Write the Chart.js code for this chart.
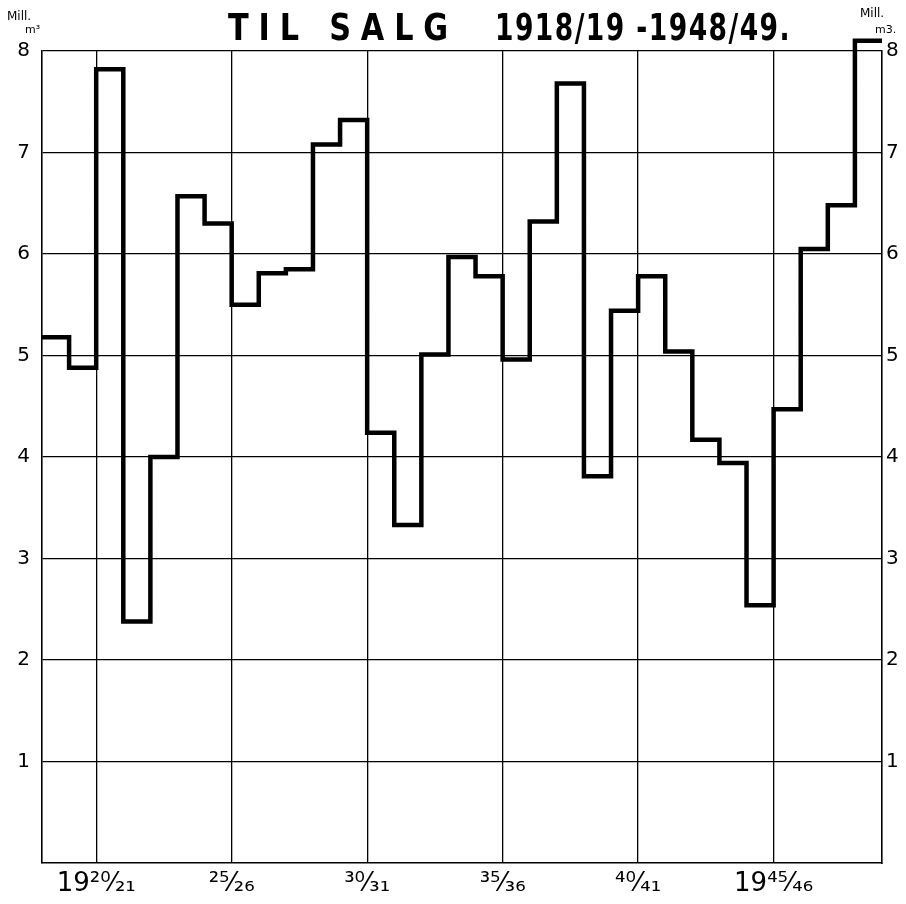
<!DOCTYPE html>
<html>
<head>
<meta charset="utf-8">
<script src="https://cdn.jsdelivr.net/npm/chart.js@4"></script>
<style>
  html, body { margin: 0; padding: 0; background: #fff; }
  #wrap { width: 906px; height: 904px; }
</style>
</head>
<body>
<div id="wrap"><canvas id="myChart" width="906" height="904"></canvas></div>
<script>
// seasons 1918/19 .. 1948/49, mill. m3 for sale
const seasons = [
    '1918/19', '1919/20', '1920/21', '1921/22', '1922/23', '1923/24', '1924/25', '1925/26',
    '1926/27', '1927/28', '1928/29', '1929/30', '1930/31', '1931/32', '1932/33', '1933/34',
    '1934/35', '1935/36', '1936/37', '1937/38', '1938/39', '1939/40', '1940/41', '1941/42',
    '1942/43', '1943/44', '1944/45', '1945/46', '1946/47', '1947/48', '1948/49'
];
const salg = [
    5.18, 4.88, 7.82, 2.38, 4.00, 6.57, 6.30, 5.50,
    5.81, 5.85, 7.08, 7.32, 4.24, 3.33, 5.01, 5.97,
    5.78, 4.96, 6.32, 7.68, 3.81, 5.44, 5.78, 5.04,
    4.17, 3.94, 2.54, 4.47, 6.05, 6.48, 8.10
];
const tickSeasons = ['1920/21', '1925/26', '1930/31', '1935/36', '1940/41', '1945/46'];
const tickLabels = ['19²⁰⁄₂₁', '²⁵⁄₂₆', '³⁰⁄₃₁', '³⁵⁄₃₆', '⁴⁰⁄₄₁', '19⁴⁵⁄₄₆'];
const yTicks = [1, 2, 3, 4, 5, 6, 7, 8];
const titleLeft = 'TIL SALG';
const titleRight = '1918/19 -1948/49.';
const unitTop = 'Mill.';
const unitLeft = 'm³';
const unitRight = 'm3.';

// step points: each season spans [i, i+1]
const points = salg.map((v, i) => ({ x: i, y: v }));
points.push({ x: seasons.length, y: salg[salg.length - 1] });

const FONT = '"DejaVu Sans", sans-serif';

const decorations = {
    id: 'decorations',
    afterDraw(chart) {
        const c = chart.ctx;
        const a = chart.chartArea;
        c.save();
        c.fillStyle = '#000';
        c.textBaseline = 'alphabetic';
        c.textAlign = 'left';
        c.font = '600 37px ' + FONT;
        c.letterSpacing = '12px';
        c.fillText(titleLeft, a.left + 186, 40, 230);
        c.letterSpacing = '2px';
        c.fillText(titleRight, a.left + 453, 40, 296);
        c.letterSpacing = '0px';
        c.font = '12px ' + FONT;
        c.fillText(unitTop, 7, 20);
        c.fillText(unitTop, a.right - 22, 17);
        c.font = '11px ' + FONT;
        c.fillText(unitLeft, 25, 33);
        c.fillText(unitRight, a.right - 7, 33);
        c.restore();
    }
};

const ctx = document.getElementById('myChart').getContext('2d');
const myChart = new Chart(ctx, {
    type: 'line',
    data: {
        datasets: [{
            data: points,
            stepped: 'before',
            borderColor: '#000',
            borderWidth: 4.5,
            borderJoinStyle: 'miter',
            borderCapStyle: 'butt',
            pointRadius: 0,
            fill: false,
            clip: false,
        }]
    },
    options: {
        responsive: false,
        animation: false,
        layout: { padding: { top: 51, left: 0, right: 0, bottom: 0 } },
        plugins: {
            legend: { display: false },
            tooltip: { enabled: false },
        },
        scales: {
            x: {
                type: 'linear',
                min: 0,
                max: seasons.length,
                afterBuildTicks: (s) => {
                    s.ticks = tickSeasons.map(t => ({ value: seasons.indexOf(t) }));
                },
                afterFit: (s) => { s.height = 41; },
                ticks: {
                    autoSkip: false,
                    maxRotation: 0,
                    color: '#000',
                    padding: 6,
                    font: { family: FONT, size: 26 },
                    callback: (v) => {
                        const k = tickSeasons.indexOf(seasons[v]);
                        return k >= 0 ? tickLabels[k] : '';
                    }
                },
                grid: { color: '#000', lineWidth: 1.3, drawTicks: false },
                border: { color: '#000', width: 1.6 },
            },
            y: {
                position: 'left',
                min: 0,
                max: 8,
                afterBuildTicks: (s) => { s.ticks = yTicks.map(v => ({ value: v })); },
                afterFit: (s) => { s.width = 42; },
                ticks: {
                    color: '#000',
                    padding: 12,
                    font: { family: FONT, size: 20 },
                },
                grid: { color: '#000', lineWidth: 1.3, drawTicks: false },
                border: { color: '#000', width: 1.6 },
            },
            y2: {
                position: 'right',
                min: 0,
                max: 8,
                afterBuildTicks: (s) => { s.ticks = yTicks.map(v => ({ value: v })); },
                afterFit: (s) => { s.width = 24; },
                ticks: {
                    color: '#000',
                    padding: 4,
                    font: { family: FONT, size: 20 },
                },
                grid: { display: false, drawTicks: false },
                border: { color: '#000', width: 1.6 },
            },
        },
    },
    plugins: [decorations],
});
</script>
</body>
</html>
